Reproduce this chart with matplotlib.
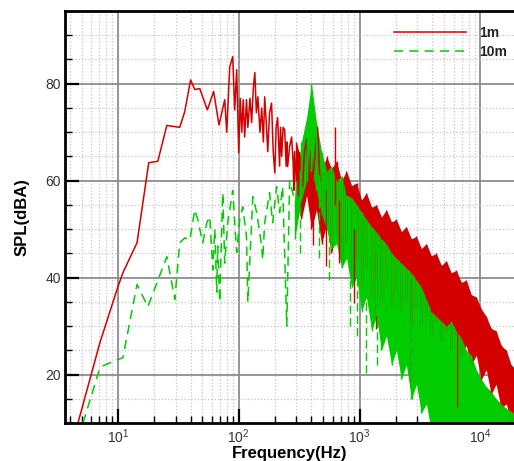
import matplotlib
matplotlib.use("Agg")
import matplotlib.pyplot as plt
from matplotlib.ticker import LogLocator, MultipleLocator, NullFormatter

plt.rcParams["font.family"] = ["Liberation Sans", "DejaVu Sans"]
plt.rcParams["mathtext.default"] = "regular"

RED = "#d40000"
GREEN = "#00cc00"

# 1m: sparse low-frequency trace (Hz, dBA)
red_f = [4.67, 7.1, 10, 11, 14.4, 18, 21.4, 25.4, 32.5, 35.7, 40, 43.3, 47.6, 55, 62,
         68.7, 76.6, 79.6, 84.3, 89.2, 92.6, 96.2, 100, 103, 106, 109, 112, 116, 119,
         124, 128, 132, 136, 140, 144, 150, 155, 160, 164, 169, 174, 180, 187, 193, 199,
         204, 210, 218, 222, 227, 233, 240, 247, 251, 254, 264, 274, 282, 286, 290, 300,
         305, 312, 319, 338, 350, 365, 380, 395, 409, 430, 450, 470]
red_db = [10, 26.6, 38.1, 41, 47.2, 63.7, 64, 71.4, 71, 74.2, 80.8, 78.8, 79, 74.6, 78.4,
          71.5, 76.7, 70, 83.5, 85.6, 74.6, 82.9, 65.8, 77, 70, 76.7, 69, 76.7, 71,
          77, 72, 79, 82.3, 74, 77.3, 70, 75, 68, 77.3, 72, 66, 74, 76, 66, 61.6,
          71, 73, 63, 71, 65, 71, 70.5, 63, 68, 62.9, 67, 69, 64, 58, 66, 60,
          66, 57, 65.8, 58.8, 66, 68.5, 58, 66, 59.6, 66, 71, 60]

# 10m: sparse low-frequency trace (Hz, dBA)
green_f = [5.14, 7.1, 7.5, 11, 14.4, 17.7, 25.4, 29.6, 32.5, 35.8, 39.4, 43.3, 45.8, 50.4,
           54.4, 57.6, 61, 63.4, 65.8, 67, 69.6, 73.8, 76.6, 81.1, 89.2, 96.2, 102, 108,
           116, 119, 131, 141, 155, 158, 164, 180, 191, 206, 218, 231, 250, 264, 290]
green_db = [10, 21.4, 21.8, 23.5, 38.6, 34, 44.3, 35.5, 47.2, 48.2, 47.8, 54, 52, 47.2,
            51.3, 52.6, 41.6, 50, 37, 46.5, 35, 57.5, 43, 51.3, 58, 45.2, 52, 54.6,
            48.5, 35, 56.7, 53.4, 46.4, 43.7, 51.3, 57.5, 51.3, 58.8, 53.4, 58.8, 30, 60, 56]

# dense high-frequency band of 1m (upper / lower envelope)
red_band_f = [300, 330, 365, 400, 440, 485, 535, 585, 645, 710, 780, 860, 945, 1040, 1140,
              1260, 1380, 1520, 1670, 1840, 2020, 2220, 2440, 2690, 2960, 3250, 3580, 3930,
              4320, 4760, 5230, 5750, 6330, 6960, 7650, 8410, 9250, 10200, 11200, 12300,
              13500, 14900, 16400, 18000, 19800]
red_band_hi = [68, 64, 67.5, 65, 66, 62, 65, 62.5, 64, 60, 62, 59, 59.5, 56, 57.5,
               54.5, 55, 52.5, 54, 51.5, 52, 49.5, 50.5, 48, 48.5, 46, 47, 44.5,
               45, 42.5, 43.5, 41, 41.5, 39, 39.5, 36.5, 36, 33.5, 32, 29.5,
               29, 26, 25, 22, 21]
red_band_lo = [56, 52, 57, 50, 54, 47, 51, 45, 49, 43, 47, 40, 44, 38, 42,
               36, 40, 35, 38, 34, 37, 33, 35, 31, 34, 30, 32, 28,
               31, 27, 29, 25, 28, 24, 26, 22, 24, 19, 21, 16,
               18, 13, 14, 10, 9]

# dense high-frequency band of 10m
green_band_f = [290, 300, 330, 365, 400, 440, 485, 535, 585, 645, 710, 780, 860, 945, 1040,
                1140, 1260, 1380, 1520, 1670, 1840, 2020, 2220, 2440, 2690, 2960, 3250,
                3580, 3930, 4320, 4760, 5230, 5750, 6330, 6960, 7650, 8410, 9250, 10200,
                11200, 12300, 13500, 14900, 16400, 18000, 19800]
green_band_hi = [56, 60, 68, 73, 80, 72, 66, 62, 63, 60, 61, 57, 56.5, 55, 53.5,
                 52, 50.5, 49.5, 48, 47, 45, 44, 43, 42, 41, 39.5, 38,
                 35.5, 33, 32, 31, 30, 31, 29, 27.5, 25, 24, 21, 19,
                 17.5, 16.5, 15, 14, 13, 12.5, 11.5]
green_band_lo = [48, 50, 56, 60, 62, 58, 53, 50, 46, 47, 42, 44, 38, 40, 33,
                 36, 29, 32, 25, 28, 22, 25, 19, 22, 15, 18, 12,
                 14, 8, 5, 5, 5, 5, 5, 5, 5, 5, 5, 5,
                 5, 5, 5, 5, 5, 5, 5]

# isolated spikes sticking out of the bands (Hz, top dBA, bottom dBA)
red_spike_f = [410, 530, 621, 680, 900, 1380, 2690, 6400]
red_spike_top = [60, 58, 71, 56, 50, 45, 40, 35]
red_spike_bot = [46.8, 42.3, 55, 43, 34.8, 29.3, 17.5, 13.4]
green_spike_f = [320, 460, 560, 830, 960, 1140, 1400, 2700]
green_spike_top = [62, 62, 52, 45, 42, 40, 36, 30]
green_spike_bot = [45, 44, 39.6, 30, 28, 20.4, 22, 15]

y_ticks = [20, 40, 60, 80]


def plot_spectrum(path: str = "out.png"):
    fig = plt.figure(figsize=(5.14, 4.61), dpi=100)
    ax = fig.add_axes([0.1265, 0.0824, 0.8735, 0.8937])
    ax.set_xscale("log")

    ax.fill_between(red_band_f, red_band_lo, red_band_hi, color=RED, lw=0)
    ax.vlines(red_band_f, red_band_lo, red_band_hi, color=RED, lw=1)
    ax.vlines(red_spike_f, red_spike_bot, red_spike_top, color=RED, lw=1)
    ax.plot(red_f, red_db, color=RED, lw=1.1, label="1m")

    ax.fill_between(green_band_f, green_band_lo, green_band_hi, color=GREEN, lw=0)
    ax.vlines(green_band_f, green_band_lo, green_band_hi, color=GREEN, lw=1)
    ax.vlines(green_spike_f, green_spike_bot, green_spike_top, color=GREEN, lw=1,
              linestyles=(0, (6, 3)))
    ax.plot(green_f, green_db, color=GREEN, lw=1.1, dashes=(6, 4), label="10m")

    ax.set_xlim(3.65, 19000)
    ax.set_ylim(10, 95)
    ax.set_yticks(y_ticks)
    ax.yaxis.set_minor_locator(MultipleLocator(5))
    ax.xaxis.set_major_locator(LogLocator(base=10))
    ax.xaxis.set_minor_locator(LogLocator(base=10, subs=range(2, 10)))
    ax.xaxis.set_minor_formatter(NullFormatter())

    ax.grid(which="major", color="#8c8c8c", lw=1.3, ls="-")
    ax.grid(which="minor", color="#c4c4c4", lw=0.9, ls=":")
    ax.set_axisbelow(True)

    ax.tick_params(which="major", direction="in", length=10, width=1.6,
                   labelsize=10, labelcolor="#333333", pad=3)
    ax.tick_params(which="minor", direction="in", length=5, width=1)
    for side in ("left", "bottom", "top"):
        ax.spines[side].set_linewidth(2)
    ax.spines["right"].set_visible(False)

    ax.set_xlabel("Frequency(Hz)", fontsize=12, fontweight="bold", labelpad=0)
    ax.set_ylabel("SPL(dBA)", fontsize=12, fontweight="bold", labelpad=11)

    leg = ax.legend(loc="upper left", bbox_to_anchor=(0.733, 0.963), frameon=False,
                    borderpad=0, borderaxespad=0, handlelength=5.2, handletextpad=0.9,
                    labelspacing=0.35, prop={"weight": "bold", "size": 10})
    for t in leg.get_texts():
        t.set_color("#222222")

    fig.savefig(path, dpi=100)


if __name__ == "__main__":
    plot_spectrum()
